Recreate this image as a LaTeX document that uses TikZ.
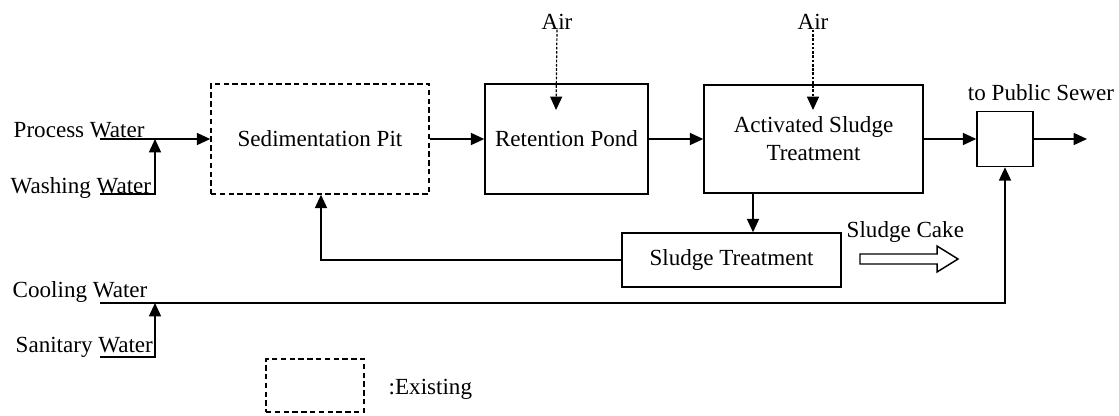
\documentclass[tikz,border=0pt]{standalone}
\usepackage{fontspec}
\setmainfont{Liberation Serif}
\usetikzlibrary{arrows.meta}
\begin{document}
\begin{tikzpicture}[x=0.75pt,y=-0.75pt,
  font=\fontsize{17.3}{21}\selectfont,
  line width=1.1pt,
  box/.style 2 args={draw, inner sep=0pt, align=center,
    minimum width=#1*0.75pt, minimum height=#2*0.75pt},
  existing/.style={dash pattern=on 4pt off 2.6pt},
  flow/.style={-{Triangle[length=10pt,width=9pt]}},
  airflow/.style={flow, line width=0.9pt, dash pattern=on 2pt off 1.2pt},
  lbl/.style={inner sep=0pt, anchor=base west},
  clbl/.style={inner sep=0pt, anchor=base}]
\useasboundingbox (0,0) rectangle (1119,415);

% process units
\node[box={218}{110}, existing] (sed) at (320,139) {Sedimentation Pit};
\node[box={163}{110}] (ret) at (566.5,139) {Retention Pond};
\node[box={219}{108}] (asl) at (813.5,139) {Activated Sludge\\Treatment};
\node[box={56}{55}] (sew) at (1005,139) {};
\node[box={219}{54}] (sludge) at (731.5,260) {Sludge Treatment};

% inflow labels
\node[lbl] (pwl) at (13,137) {Process Water};
\node[lbl] (wwl) at (10,193) {Washing Water};
\node[lbl] (cwl) at (12,297) {Cooling Water};
\node[lbl] (swl) at (15,352) {Sanitary Water};
\node[clbl] (air1) at (557,29) {Air};
\node[clbl] (air2) at (813,29) {Air};
\node[clbl] (pub) at (1041,100) {to Public Sewer};
\node[lbl] (cake) at (846,237) {Sludge Cake};

% free ends of the lines
\coordinate (pw) at (100,139);
\coordinate (pwj) at (155,139);
\coordinate (ww) at (100,194);
\coordinate (cw) at (100,303);
\coordinate (cwj) at (155,303);
\coordinate (sw) at (100,357);
\coordinate (out) at (1087,139);
\coordinate (airtip1) at (556,110);
\coordinate (airtip2) at (813,110);
\coordinate (drop) at (753,0);
\coordinate (ret1) at (321,0);

% main water line
\draw[flow] (pw) -- (sed.west);
\draw[flow] (ww) -| (pwj);
\draw[flow] (sed.east) -- (ret.west);
\draw[flow] (ret.east) -- (asl.west);
\draw[flow] (asl.east) -- (sew.west);
\draw[flow] (sew.east) -- (out);

% aeration
\draw[airflow] (air1.south) -- (airtip1);
\draw[airflow] (air2.south) -- (airtip2);

% sludge line
\draw[flow] (drop |- asl.south) -- (drop |- sludge.north);
\draw[flow] (sludge.west) -| (ret1 |- sed.south);

% cooling and sanitary water bypass
\draw[flow] (cw) -| (sew.south);
\draw[flow] (sw) -| (cwj);

% sludge cake discharge
\draw[line width=1.1pt] (860,254) -- (937,254) -- (937,246) -- (958,259)
  -- (937,272) -- (937,264) -- (860,264) -- cycle;

% legend
\node[box={98}{53}, existing] (leg) at (315,385.5) {};
\node[lbl] (legl) at (388,394) {:Existing};
\end{tikzpicture}
\end{document}
